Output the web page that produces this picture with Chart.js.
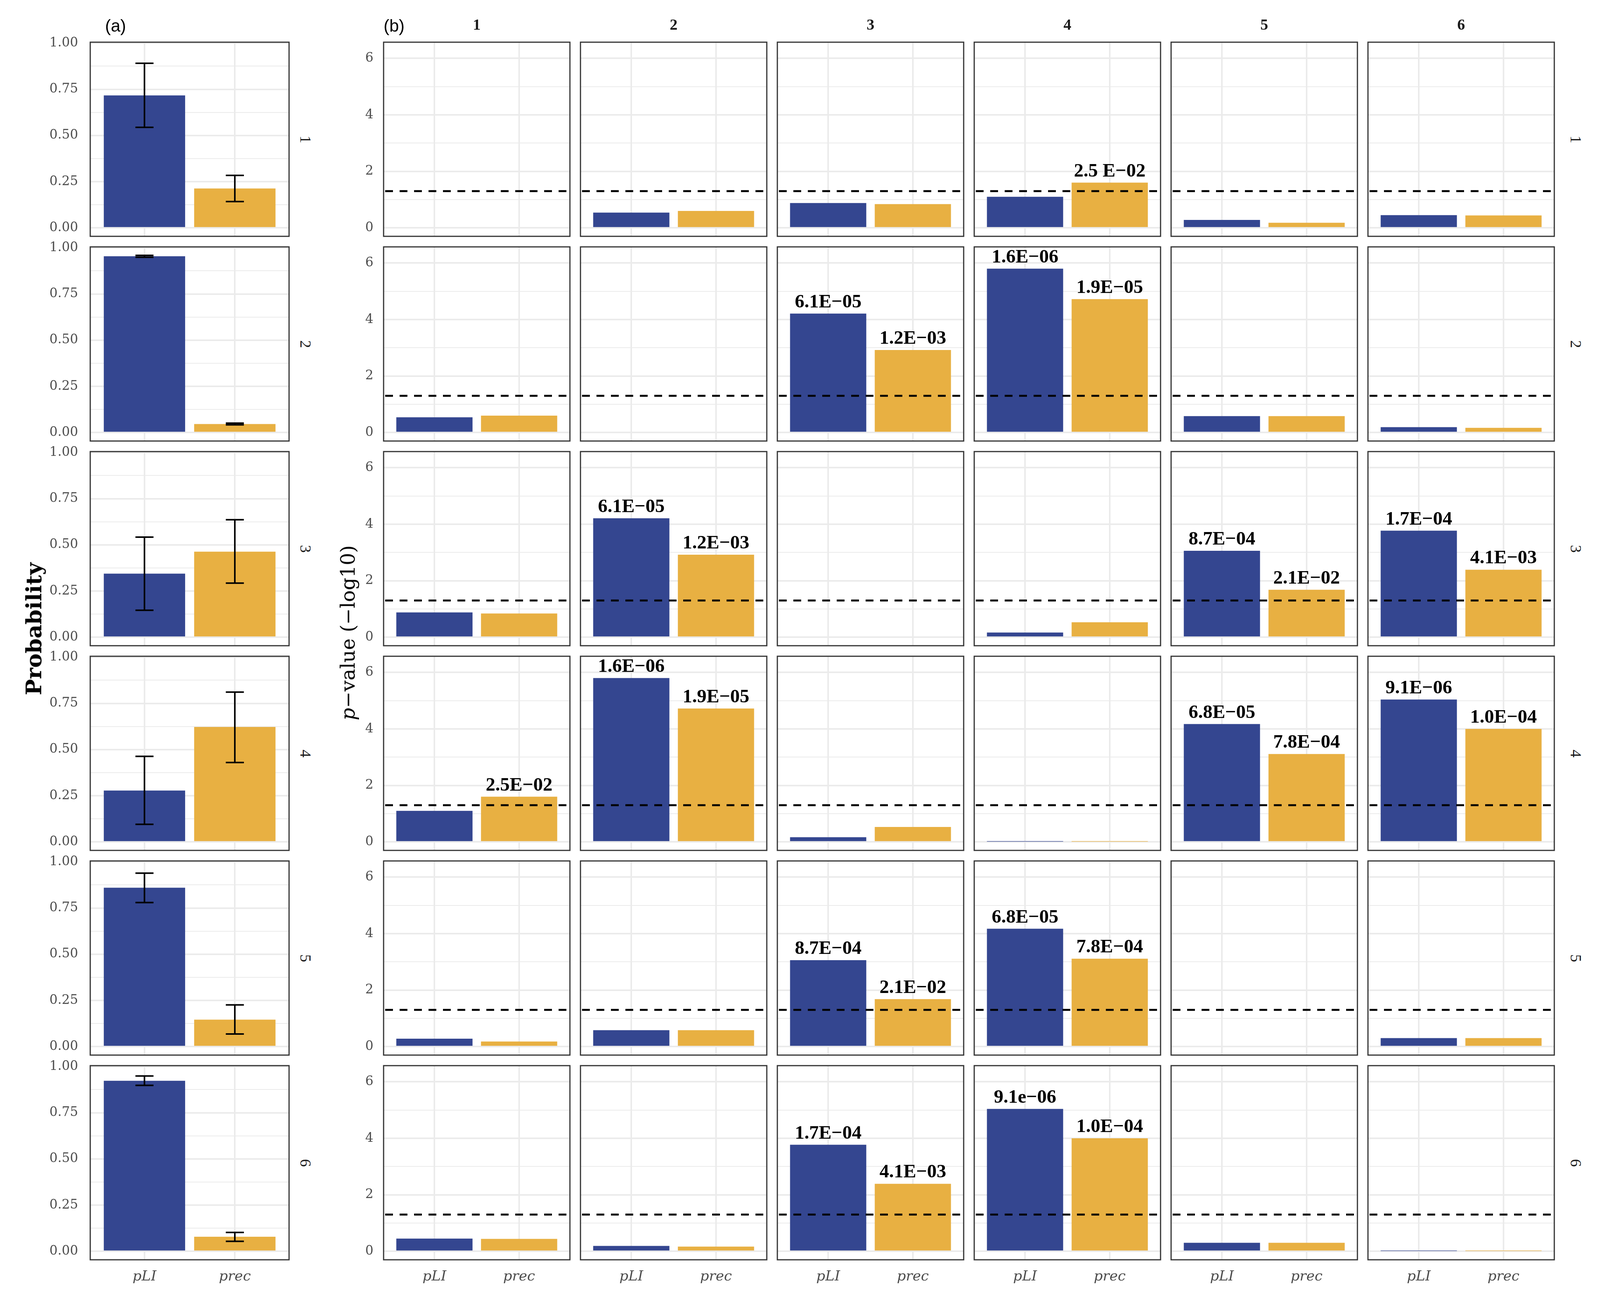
<!DOCTYPE html>
<html>
<head>
<meta charset="utf-8">
<script src="https://cdn.jsdelivr.net/npm/chart.js@4.4.0/dist/chart.umd.min.js"></script>
<style>
  body { margin: 0; background: #fff; }
  #page { position: relative; width: 4107px; height: 3351px; overflow: hidden; background: #fff; }
  #page canvas { position: absolute; }
  .txt { position: absolute; white-space: nowrap; line-height: 1; transform: translate(-50%, -50%); }
</style>
</head>
<body>
<div id="page"></div>
<script>
// groups (facet rows / columns) and the two measures
const groups = ["1", "2", "3", "4", "5", "6"];
const measures = ["pLI", "prec"];
const colors = ["#344690", "#e8b042"];

// (a) probability per group, with error bar limits
const probPLI = [0.717, 0.954, 0.344, 0.278, 0.860, 0.923];
const probPLILow = [0.544, 0.949, 0.146, 0.095, 0.780, 0.898];
const probPLIHigh = [0.891, 0.959, 0.542, 0.463, 0.939, 0.949];
const probPrec = [0.213, 0.046, 0.463, 0.622, 0.146, 0.079];
const probPrecLow = [0.142, 0.042, 0.293, 0.430, 0.068, 0.054];
const probPrecHigh = [0.284, 0.051, 0.636, 0.811, 0.226, 0.102];

// (b) p-value (-log10), row group x column group
const logpPLI = [
  [null, 0.54, 0.88, 1.10, 0.28, 0.45],
  [0.54, null, 4.21, 5.80, 0.58, 0.19],
  [0.88, 4.21, null, 0.165, 3.06, 3.77],
  [1.10, 5.80, 0.165, 0.01, 4.17, 5.04],
  [0.28, 0.58, 3.06, 4.17, null, 0.30],
  [0.45, 0.19, 3.77, 5.04, 0.30, 0.01]
];
const logpPrec = [
  [null, 0.60, 0.84, 1.60, 0.18, 0.44],
  [0.60, null, 2.92, 4.72, 0.58, 0.165],
  [0.84, 2.92, null, 0.53, 1.68, 2.39],
  [1.60, 4.72, 0.53, 0.01, 3.11, 4.00],
  [0.18, 0.58, 1.68, 3.11, null, 0.30],
  [0.44, 0.165, 2.39, 4.00, 0.30, 0.01]
];
const labelPLI = [
  [null, null, null, null, null, null],
  [null, null, "6.1E−05", "1.6E−06", null, null],
  [null, "6.1E−05", null, null, "8.7E−04", "1.7E−04"],
  [null, "1.6E−06", null, null, "6.8E−05", "9.1E−06"],
  [null, null, "8.7E−04", "6.8E−05", null, null],
  [null, null, "1.7E−04", "9.1e−06", null, null]
];
const labelPrec = [
  [null, null, null, "2.5 E−02", null, null],
  [null, null, "1.2E−03", "1.9E−05", null, null],
  [null, "1.2E−03", null, null, "2.1E−02", "4.1E−03"],
  ["2.5E−02", "1.9E−05", null, null, "7.8E−04", "1.0E−04"],
  [null, null, "2.1E−02", "7.8E−04", null, null],
  [null, null, "4.1E−03", "1.0E−04", null, null]
];
const sigLevel = 1.301; // -log10(0.05)

// ticks
const probTicks = [0, 0.25, 0.5, 0.75, 1];
const probMinor = [0.125, 0.375, 0.625, 0.875];
const logpTicks = [0, 2, 4, 6];
const logpMinor = [1, 3, 5];

const page = document.getElementById("page");

function addText(html, x, y, css) {
  const d = document.createElement("div");
  d.className = "txt";
  d.innerHTML = html;
  d.style.left = x + "px";
  d.style.top = y + "px";
  Object.assign(d.style, css);
  page.appendChild(d);
  return d;
}

// draws dashed line, error bars, value labels and the panel border
const decor = {
  id: "decor",
  afterDatasetsDraw(chart, args, opts) {
    const ctx = chart.ctx;
    const a = chart.chartArea;
    const xs = chart.scales.x, ys = chart.scales.y;
    ctx.save();
    if (opts.kind === "prob") {
      const lows = [probPLILow[opts.row], probPrecLow[opts.row]];
      const highs = [probPLIHigh[opts.row], probPrecHigh[opts.row]];
      ctx.strokeStyle = "#000";
      ctx.lineWidth = 4;
      for (let i = 0; i < 2; i++) {
        const x = xs.getPixelForValue(i);
        const hw = xs.getPixelForValue(i + 0.1) - x;
        const y1 = ys.getPixelForValue(lows[i]);
        const y2 = ys.getPixelForValue(highs[i]);
        ctx.beginPath();
        ctx.moveTo(x, y1); ctx.lineTo(x, y2);
        ctx.moveTo(x - hw, y1); ctx.lineTo(x + hw, y1);
        ctx.moveTo(x - hw, y2); ctx.lineTo(x + hw, y2);
        ctx.stroke();
      }
    } else {
      const y = ys.getPixelForValue(sigLevel);
      ctx.strokeStyle = "#000";
      ctx.lineWidth = 5;
      ctx.setLineDash([20, 17]);
      ctx.beginPath();
      ctx.moveTo(a.left + 4, y);
      ctx.lineTo(a.right, y);
      ctx.stroke();
      ctx.setLineDash([]);
      const texts = [labelPLI[opts.row][opts.col], labelPrec[opts.row][opts.col]];
      const meta = chart.getDatasetMeta(0);
      ctx.fillStyle = "#000";
      ctx.font = 'bold 49px "Liberation Serif"';
      ctx.textAlign = "center";
      ctx.textBaseline = "alphabetic";
      meta.data.forEach((el, i) => {
        if (texts[i]) ctx.fillText(texts[i], el.x, el.y - 16);
      });
    }
    ctx.lineWidth = 3;
    ctx.strokeStyle = "#333333";
    ctx.strokeRect(a.left, a.top, a.right - a.left, a.bottom - a.top);
    ctx.restore();
  }
};

function makePanel(kind, row, col, values, box) {
  const showY = kind === "prob" || col === 0;
  const showX = row === groups.length - 1;
  const yw = showY ? 130 : 0;
  const xh = showX ? 90 : 0;
  const pad = 6;
  const padTop = 40;
  const cv = document.createElement("canvas");
  cv.width = box.w + 2 * pad + yw;
  cv.height = box.h + pad + padTop + xh;
  cv.style.left = (box.x - pad - yw) + "px";
  cv.style.top = (box.y - padTop) + "px";
  page.appendChild(cv);

  const major = kind === "prob" ? probTicks : logpTicks;
  const minor = kind === "prob" ? probMinor : logpMinor;
  const allTicks = major.concat(minor).sort((p, q) => p - q);
  const data = values[0] === null ? [] : values.map((v, i) => ({ x: i, y: v }));

  new Chart(cv, {
    type: "bar",
    data: {
      datasets: [{
        data: data,
        backgroundColor: colors,
        barPercentage: 0.9,
        categoryPercentage: 1
      }]
    },
    options: {
      responsive: false,
      animation: false,
      devicePixelRatio: 1,
      layout: { padding: { top: padTop, left: pad, right: pad, bottom: pad } },
      plugins: {
        legend: { display: false },
        tooltip: { enabled: false },
        decor: { kind: kind, row: row, col: col }
      },
      scales: {
        x: {
          type: "linear",
          min: -0.6,
          max: 1.6,
          offset: false,
          afterBuildTicks: (s) => { s.ticks = measures.map((m, i) => ({ value: i })); },
          afterFit: (s) => { s.height = xh; s.paddingLeft = 0; s.paddingRight = 0; },
          ticks: {
            display: showX,
            autoSkip: false,
            maxRotation: 0,
            padding: 22,
            color: "#4d4d4d",
            font: { family: "DejaVu Serif", style: "italic", size: 36 },
            callback: (v) => measures[v]
          },
          grid: { color: "#ebebeb", lineWidth: 4, drawTicks: false, offset: false },
          border: { display: false }
        },
        y: {
          min: kind === "prob" ? -0.046 : -0.30,
          max: kind === "prob" ? 1.005 : 6.57,
          afterBuildTicks: (s) => { s.ticks = allTicks.map((v) => ({ value: v })); },
          afterFit: (s) => { s.width = yw; s.paddingTop = 0; s.paddingBottom = 0; },
          ticks: {
            display: showY,
            padding: kind === "prob" ? 31 : 26,
            color: "#4d4d4d",
            font: { family: "DejaVu Serif", size: 33 },
            callback: (v) => major.includes(v) ? (kind === "prob" ? v.toFixed(2) : String(v)) : ""
          },
          grid: {
            color: "#ebebeb",
            lineWidth: (c) => major.includes(c.tick.value) ? 4 : 2,
            drawTicks: false
          },
          border: { display: false }
        }
      }
    },
    plugins: [decor]
  });
}

// layout of the panel grid
const rowTop = (r) => 108 + 524 * r;
const panelH = 497;
const aBox = { x: 231, w: 509 };
const bLeft = (c) => 982 + 504 * c;
const bW = 477;

groups.forEach((g, r) => {
  makePanel("prob", r, 0, [probPLI[r], probPrec[r]], { x: aBox.x, y: rowTop(r), w: aBox.w, h: panelH });
  groups.forEach((g2, c) => {
    makePanel("logp", r, c, [logpPLI[r][c], logpPrec[r][c]], { x: bLeft(c), y: rowTop(r), w: bW, h: panelH });
  });
  const cy = rowTop(r) + panelH / 2;
  const stripCss = { font: '40px "Liberation Serif"', color: "#1a1a1a", transform: "translate(-50%,-50%) rotate(90deg)" };
  addText(g, 782, cy, stripCss);
  addText(g, 4034, cy, stripCss);
  addText(g, bLeft(r) + bW / 2, 62, { font: 'bold 40px "Liberation Serif"', color: "#1a1a1a" });
});

addText("(a)", 269, 66, { font: '44px "Liberation Sans"', color: "#000", transform: "translate(0,-50%)" });
addText("(b)", 982, 66, { font: '44px "Liberation Sans"', color: "#000", transform: "translate(0,-50%)" });
addText("Probability", 86, 1610, { font: 'bold 55px "DejaVu Serif"', color: "#000", transform: "translate(-50%,-50%) rotate(-90deg)" });
addText("<i>p</i>−value (−log10)", 891, 1620, { font: '50px "DejaVu Serif"', color: "#000", transform: "translate(-50%,-50%) rotate(-90deg)" });
</script>
</body>
</html>
